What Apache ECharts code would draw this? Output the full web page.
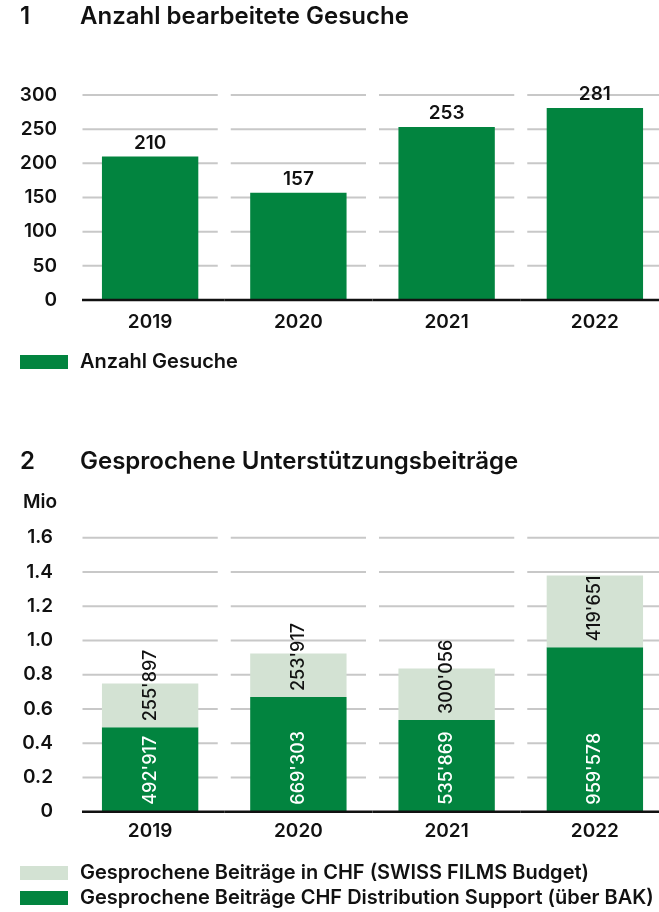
<!DOCTYPE html>
<html>
<head>
<meta charset="utf-8">
<script src="https://cdn.jsdelivr.net/npm/echarts@6/dist/echarts.min.js"></script>
<style>
  html, body { margin: 0; padding: 0; background: #fff; }
  #chart { width: 659px; height: 912px; }
</style>
</head>
<body>
<div id="chart"></div>
<script>
// data
const years = ['2019', '2020', '2021', '2022'];
const gesuche = [210, 157, 253, 281];
const ticks1 = [0, 50, 100, 150, 200, 250, 300];
const bakSupport = [492917, 669303, 535869, 959578];
const swissFilms = [255897, 253917, 300056, 419651];
const ticks2 = [0, 200000, 400000, 600000, 800000, 1000000, 1200000, 1400000, 1600000];

const FONT = 'Inter';
const DARK = '#02843f';
const LIGHT = '#d3e2d3';
const INK = '#111111';

function fmtCHF(v) {
  return String(v).replace(/\B(?=(\d{3})+(?!\d))/g, "'");
}

// gridlines are split per category, so draw them per band
function bandLines(ticks, baseline) {
  return function (params, api) {
    const i = api.value(0);
    const band = api.size([1, 0])[0];
    const cx = api.coord([i, 0])[0];
    const x0 = cx - band / 2;
    const x1 = cx + band / 2;
    const children = [];
    ticks.forEach(function (t) {
      const y = api.coord([i, t])[1];
      if (baseline && t === 0) {
        children.push({
          type: 'line',
          shape: { x1: x0 + (i === 0 ? 6 : 0), y1: y, x2: x1, y2: y },
          style: { stroke: INK, lineWidth: 2.5 }
        });
      } else if (!baseline && t !== 0) {
        children.push({
          type: 'line',
          shape: { x1: x0 + 6.5, y1: y, x2: x1 - 6.5, y2: y },
          style: { stroke: '#c8c8c8', lineWidth: 2 }
        });
      }
    });
    return { type: 'group', children: children };
  };
}

const idx = years.map(function (y, i) { return [i]; });

const titleStyle = { fontFamily: FONT, fontSize: 24, fontWeight: 600, color: INK };
const labelStyle = { fontFamily: FONT, fontSize: 19, fontWeight: 600, color: INK };
const legendText = { fontFamily: FONT, fontSize: 20, fontWeight: 600, color: INK, padding: [0, 0, 0, 7] };

const chart = echarts.init(document.getElementById('chart'));
chart.setOption({
  animation: false,
  title: [
    { text: '1', left: 20, top: 5, padding: 0, textStyle: titleStyle },
    { text: 'Anzahl bearbeitete Gesuche', left: 80, top: 5, padding: 0, textStyle: titleStyle },
    { text: '2', left: 20, top: 450, padding: 0, textStyle: titleStyle },
    { text: 'Gesprochene Unterstützungsbeiträge', left: 80, top: 450, padding: 0, textStyle: titleStyle }
  ],
  legend: [
    {
      left: 20, top: 352, padding: 0,
      itemWidth: 48, itemHeight: 14, itemGap: 5,
      icon: 'rect',
      textStyle: legendText,
      data: ['Anzahl Gesuche']
    },
    {
      left: 20, top: 863, padding: 0, orient: 'vertical',
      itemWidth: 48, itemHeight: 14, itemGap: 5,
      icon: 'rect',
      textStyle: legendText,
      data: ['Gesprochene Beiträge in CHF (SWISS FILMS Budget)', 'Gesprochene Beiträge CHF Distribution Support (über BAK)']
    }
  ],
  grid: [
    { left: 76, width: 593, top: 95, height: 205, outerBoundsMode: 'none' },
    { left: 76, width: 593, top: 537.7, height: 274, outerBoundsMode: 'none' }
  ],
  xAxis: [
    {
      type: 'category', gridIndex: 0, data: years,
      axisLine: { show: false }, axisTick: { show: false },
      axisLabel: Object.assign({ margin: 13 }, labelStyle)
    },
    {
      type: 'category', gridIndex: 1, data: years,
      axisLine: { show: false }, axisTick: { show: false },
      axisLabel: Object.assign({ margin: 10 }, labelStyle)
    }
  ],
  yAxis: [
    {
      type: 'value', gridIndex: 0, min: 0, max: 300, interval: 50,
      splitLine: { show: false }, axisLine: { show: false }, axisTick: { show: false },
      axisLabel: Object.assign({ margin: 19 }, labelStyle)
    },
    {
      type: 'value', gridIndex: 1, min: 0, max: 1600000, interval: 200000,
      name: 'Mio', nameLocation: 'end', nameGap: 26,
      nameTextStyle: Object.assign({ align: 'right', padding: [0, 19, 0, 0] }, labelStyle),
      splitLine: { show: false }, axisLine: { show: false }, axisTick: { show: false },
      axisLabel: Object.assign({
        margin: 23,
        formatter: function (v) { return v === 0 ? '0' : (v / 1e6).toFixed(1); }
      }, labelStyle)
    }
  ],
  series: [
    {
      type: 'custom', xAxisIndex: 0, yAxisIndex: 0, silent: true, z: 1,
      renderItem: bandLines(ticks1, false), encode: { x: 0 }, data: idx
    },
    {
      name: 'Anzahl Gesuche', type: 'bar', xAxisIndex: 0, yAxisIndex: 0,
      barWidth: '65%', z: 2,
      itemStyle: { color: DARK },
      label: Object.assign({ show: true, position: 'top', distance: 4 }, labelStyle),
      data: gesuche
    },
    {
      type: 'custom', xAxisIndex: 0, yAxisIndex: 0, silent: true, z: 3,
      renderItem: bandLines(ticks1, true), encode: { x: 0 }, data: idx
    },
    {
      type: 'custom', xAxisIndex: 1, yAxisIndex: 1, silent: true, z: 1,
      renderItem: bandLines(ticks2, false), encode: { x: 0 }, data: idx
    },
    {
      name: 'Gesprochene Beiträge CHF Distribution Support (über BAK)',
      type: 'bar', xAxisIndex: 1, yAxisIndex: 1, stack: 'chf',
      barWidth: '65%', z: 2,
      itemStyle: { color: DARK },
      label: {
        show: true, position: 'insideBottom', distance: 7, rotate: 90,
        align: 'left', verticalAlign: 'middle',
        fontFamily: FONT, fontSize: 18, fontWeight: 500, color: '#ffffff',
        formatter: function (p) { return fmtCHF(p.value); }
      },
      data: bakSupport
    },
    {
      name: 'Gesprochene Beiträge in CHF (SWISS FILMS Budget)',
      type: 'bar', xAxisIndex: 1, yAxisIndex: 1, stack: 'chf',
      barWidth: '65%', z: 2,
      itemStyle: { color: LIGHT },
      label: {
        show: true, position: 'insideBottom', distance: 6, rotate: 90,
        align: 'left', verticalAlign: 'middle',
        fontFamily: FONT, fontSize: 18, fontWeight: 500, color: INK,
        formatter: function (p) { return fmtCHF(p.value); }
      },
      data: swissFilms
    },
    {
      type: 'custom', xAxisIndex: 1, yAxisIndex: 1, silent: true, z: 3,
      renderItem: bandLines(ticks2, true), encode: { x: 0 }, data: idx
    }
  ]
});
</script>
</body>
</html>
